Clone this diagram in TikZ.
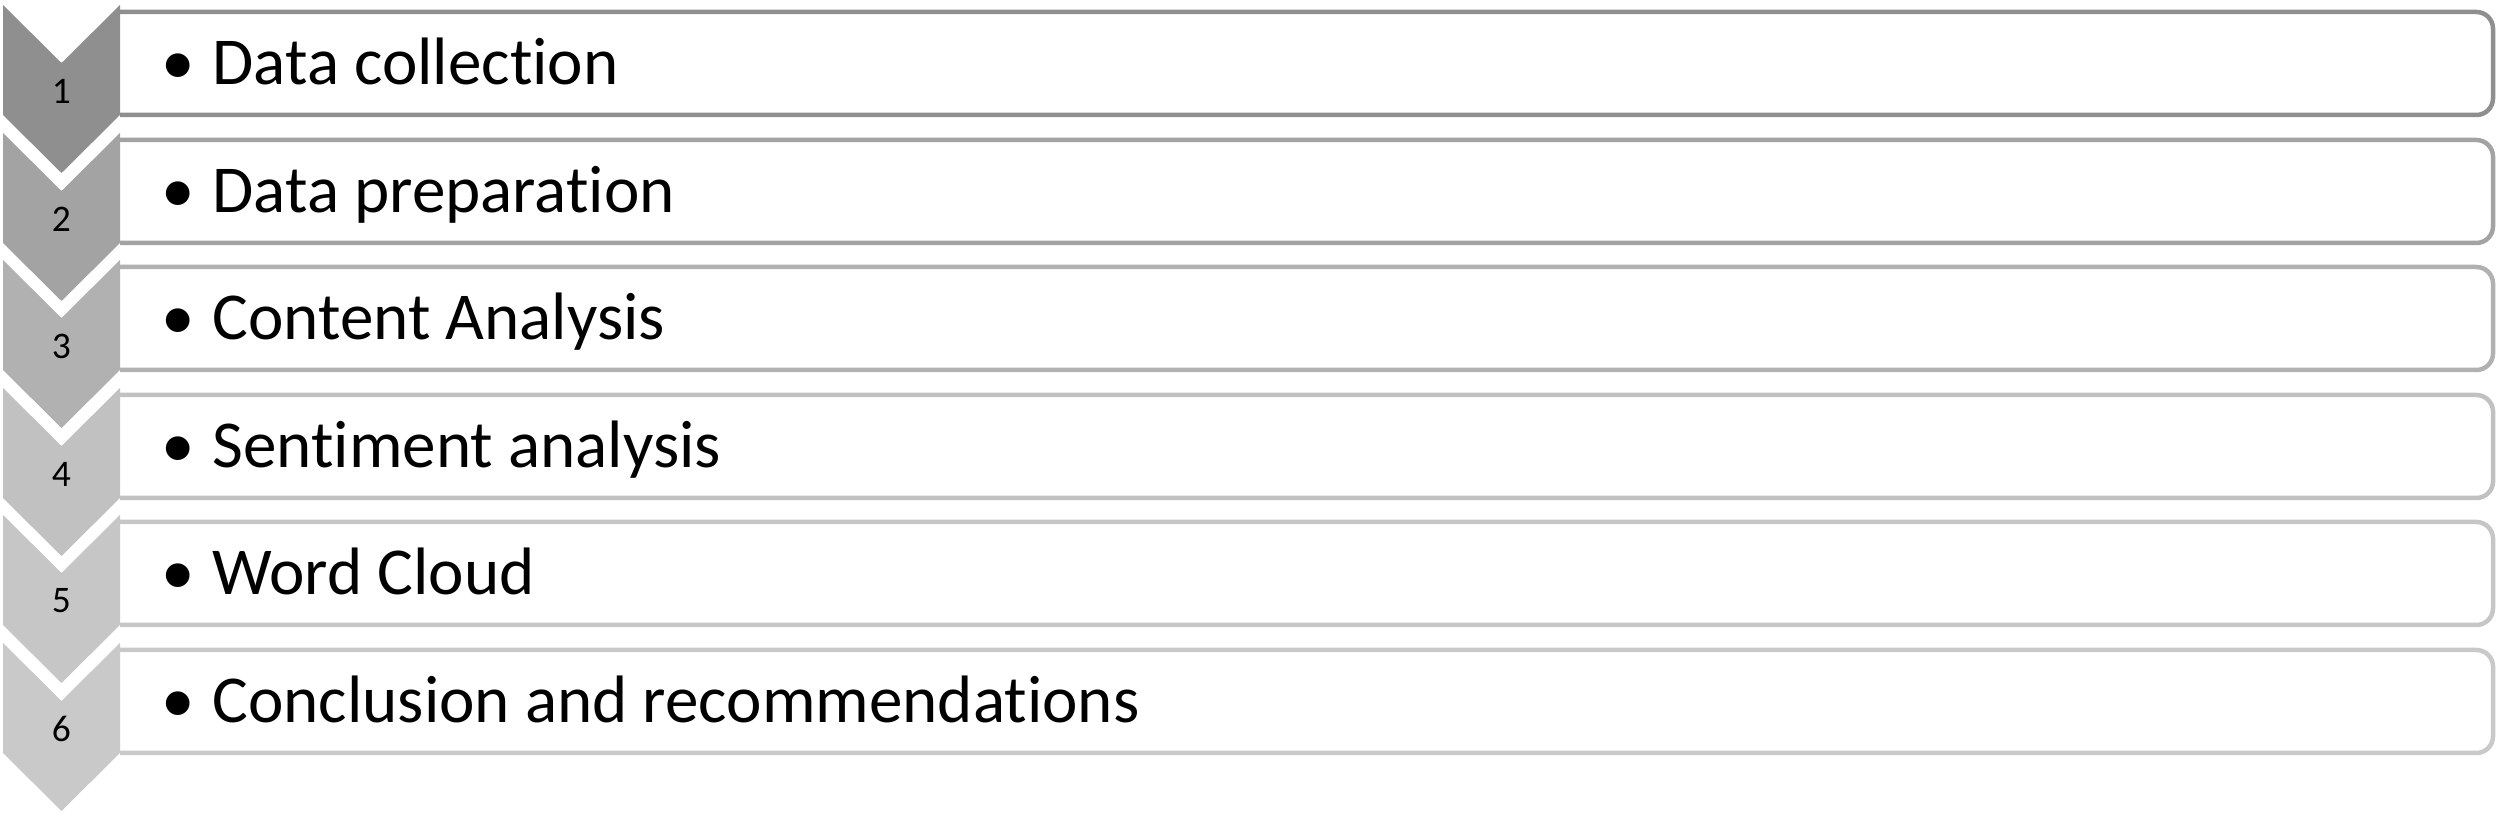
\documentclass[tikz,border=0pt]{standalone}
\usepackage{fontspec}
\setmainfont{Carlito}[Ligatures=NoCommon]
\usepackage{tikz}

\definecolor{lev1}{RGB}{143,143,143}
\definecolor{lev2}{RGB}{163,163,163}
\definecolor{lev3}{RGB}{177,177,177}
\definecolor{lev4}{RGB}{193,193,193}
\definecolor{lev5}{RGB}{198,198,198}
\definecolor{lev6}{RGB}{201,201,201}

\newcommand{\bul}{\makebox[12.2pt][l]{\textbullet}}

\begin{document}
\begin{tikzpicture}[x=0.24pt,y=0.24pt,
	panel/.style={draw=#1,line width=1.08pt,rounded corners=4pt},
	num/.style={font=\fontsize{9}{10}\selectfont,inner sep=0pt},
	item/.style={font=\fontsize{16.1}{19}\selectfont,anchor=base west,inner sep=0pt}]
	\useasboundingbox (0,0) rectangle (2500,818);

	%row 1
	\draw[panel=lev1]	(120,806)--(2493,806)--(2493,703)--(120,703);	%box
	\fill[lev1]	(3,813)--(61.5,755)--(120,813)--(120,703)--(61.5,645)--(3,703)--cycle;	%chevron
		\node[num] (n1) at (61.5,727) {1};
	\node[item] (t1) at (161,733) {\bul Data collection};

	%row 2
	\draw[panel=lev2]	(120,678)--(2493,678)--(2493,575)--(120,575);
	\fill[lev2]	(3,685)--(61.5,627)--(120,685)--(120,575)--(61.5,517)--(3,575)--cycle;
		\node[num] (n2) at (61.5,599) {2};
	\node[item] (t2) at (161,605) {\bul Data preparation};

	%row 3
	\draw[panel=lev3]	(120,551)--(2493,551)--(2493,448)--(120,448);
	\fill[lev3]	(3,558)--(61.5,500)--(120,558)--(120,448)--(61.5,390)--(3,448)--cycle;
		\node[num] (n3) at (61.5,472) {3};
	\node[item] (t3) at (161,478) {\bul Content Analysis};

	%row 4
	\draw[panel=lev4]	(120,423)--(2493,423)--(2493,320)--(120,320);
	\fill[lev4]	(3,430)--(61.5,372)--(120,430)--(120,320)--(61.5,262)--(3,320)--cycle;
		\node[num] (n4) at (61.5,344) {4};
	\node[item] (t4) at (161,350) {\bul Sentiment analysis};

	%row 5
	\draw[panel=lev5]	(120,296)--(2493,296)--(2493,193)--(120,193);
	\fill[lev5]	(3,303)--(61.5,245)--(120,303)--(120,193)--(61.5,135)--(3,193)--cycle;
		\node[num] (n5) at (61.5,217) {5};
	\node[item] (t5) at (161,223) {\bul Word Cloud};

	%row 6
	\draw[panel=lev6]	(120,168)--(2493,168)--(2493,65)--(120,65);
	\fill[lev6]	(3,175)--(61.5,117)--(120,175)--(120,65)--(61.5,7)--(3,65)--cycle;
		\node[num] (n6) at (61.5,89) {6};
	\node[item] (t6) at (161,95) {\bul Conclusion and recommendations};
	%NB: left end of each box sits under its chevron
\end{tikzpicture}
\end{document}
